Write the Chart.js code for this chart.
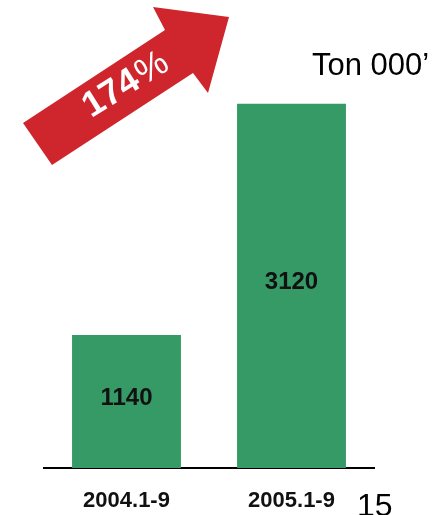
<!DOCTYPE html>
<html>
<head>
<meta charset="utf-8">
<script src="https://cdn.jsdelivr.net/npm/chart.js@4"></script>
<style>
  html, body { margin: 0; padding: 0; background: #fff; }
  canvas { display: block; }
</style>
</head>
<body>
<canvas id="tonChart" width="443" height="515"></canvas>
<script>
// chart data
const periods = ['2004.1-9', '2005.1-9'];
const tonnage = [1140, 3120];
const growthLabel = '174';
const unitLabel = 'Ton 000\u2019';
const pageNo = '15';

const FONT = '"Liberation Sans", Arial, sans-serif';

// red growth arrow + unit text + page number
const decorations = {
  id: 'decorations',
  afterDatasetsDraw(chart) {
    const c = chart.ctx;
    c.save();
    c.fillStyle = '#cf262e';
    c.beginPath();
    c.moveTo(23, 123);
    c.lineTo(165, 30);
    c.lineTo(153, 7);
    c.lineTo(229, 17);
    c.lineTo(208, 93);
    c.lineTo(193, 73);
    c.lineTo(52, 165);
    c.closePath();
    c.fill();

    // 174% rotated along the arrow
    c.translate(126, 85);
    c.rotate(-32 * Math.PI / 180);
    c.fillStyle = '#fff';
    c.textBaseline = 'middle';
    c.textAlign = 'left';
    c.font = 'bold 36px ' + FONT;
    const w1 = c.measureText(growthLabel).width;
    c.font = '36px ' + FONT;
    const w2 = c.measureText('%').width;
    let x = -(w1 + w2 + 2) / 2;
    c.font = 'bold 36px ' + FONT;
    c.fillText(growthLabel, x, 0);
    c.font = '36px ' + FONT;
    c.fillText('%', x + w1 + 2, 0);
    c.restore();

    c.save();
    c.fillStyle = '#000';
    c.textAlign = 'left';
    c.textBaseline = 'alphabetic';
    c.font = '31px ' + FONT;
    c.fillText(unitLabel, 312, 75);
    c.font = '32px ' + FONT;
    c.fillText(pageNo, 357, 516);
    c.restore();
  }
};

// value labels inside bars and category labels under the axis
const barLabels = {
  id: 'barLabels',
  afterDatasetsDraw(chart) {
    const c = chart.ctx;
    const meta = chart.getDatasetMeta(0);
    const xs = chart.scales.x;
    c.save();
    c.fillStyle = '#111';
    c.textAlign = 'center';
    c.textBaseline = 'middle';
    c.font = 'bold 24px ' + FONT;
    meta.data.forEach((bar, i) => {
      c.fillText(String(tonnage[i]), bar.x, (bar.y + bar.base) / 2 - 3);
    });
    c.font = 'bold 22px ' + FONT;
    periods.forEach((p, i) => {
      c.fillText(p, xs.getPixelForValue(i), 501);
    });
    c.restore();
  }
};

new Chart(document.getElementById('tonChart'), {
  type: 'bar',
  data: {
    labels: periods,
    datasets: [{
      data: tonnage,
      backgroundColor: '#359a66',
      borderWidth: 0,
      categoryPercentage: 1,
      barPercentage: 0.66
    }]
  },
  options: {
    responsive: false,
    animation: false,
    devicePixelRatio: 1,
    layout: { padding: { left: 44, right: 69, top: 1, bottom: 47 } },
    plugins: {
      legend: { display: false },
      tooltip: { enabled: false }
    },
    scales: {
      x: {
        grid: { display: false, drawTicks: false },
        ticks: { display: false },
        border: { display: true, color: '#000', width: 2 }
      },
      y: {
        display: false,
        min: 0,
        max: 4000
      }
    }
  },
  plugins: [decorations, barLabels]
});
</script>
</body>
</html>
